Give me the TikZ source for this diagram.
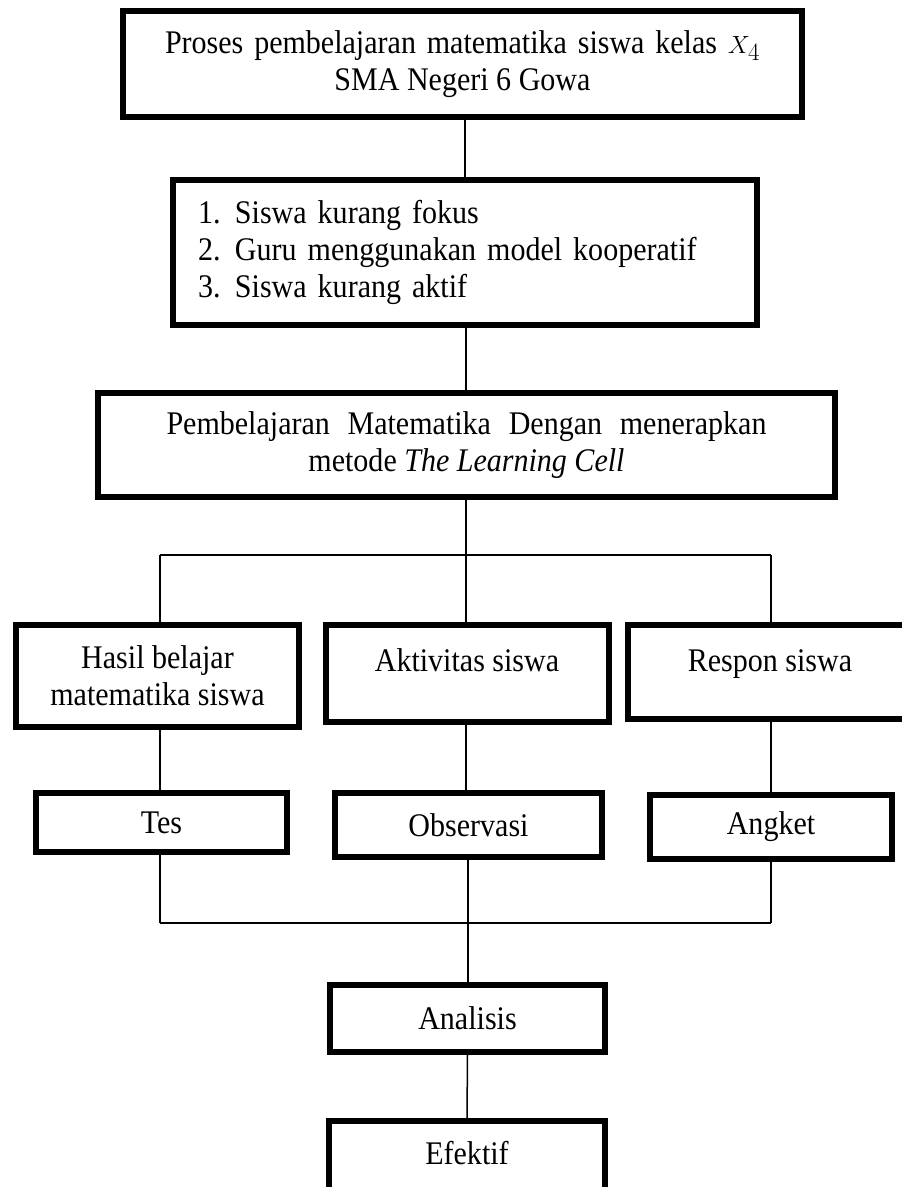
\documentclass[tikz,border=0pt]{standalone}
\usepackage{fontspec}
\setmainfont{Liberation Serif}[FakeStretch=0.91]
\begin{document}
\begin{tikzpicture}[x=1pt,y=-1pt,
  box/.style={draw, line width=6pt, inner sep=0pt, align=center, font=\fontsize{33pt}{37pt}\selectfont},
  lbl/.style={inner sep=0pt, align=center, anchor=base, font=\fontsize{33pt}{37pt}\selectfont},
  conn/.style={line width=1.5pt},
  bar/.style={line width=2.5pt}]
\useasboundingbox (0,0) rectangle (902,1187);
\fill[white] (0,0) rectangle (902,1187);
\clip (0,0) rectangle (902,1187);
% boxes
\node[box, minimum width=679pt, minimum height=106pt] (B1) at (462.5,64)
  {\makebox[595pt][s]{Proses pembelajaran matematika siswa kelas $X_4$}\\SMA Negeri 6 Gowa};
\node[box, align=left, inner xsep=25pt, text width=534pt, minimum height=145pt] (B2) at (465,252.5)
  {\makebox[37pt][l]{1.}Siswa kurang fokus\\\makebox[37pt][l]{2.}Guru menggunakan model kooperatif\\\makebox[37pt][l]{3.}Siswa kurang aktif};
\node[box, minimum width=737pt, minimum height=104pt] (B3) at (466.5,445)
  {\makebox[600pt][s]{Pembelajaran Matematika Dengan menerapkan}\\metode \textit{The Learning Cell}};
\node[box, minimum width=283pt, minimum height=102pt] (B4) at (157.5,676)
  {Hasil belajar\\matematika siswa};
\node[box, minimum width=283pt, minimum height=97pt] (B5) at (467.5,673.5) {};
\node[lbl] (T5) at (467,671) {Aktivitas siswa};
\node[box, minimum width=279pt, minimum height=94pt] (B6) at (767.5,672) {};
\node[lbl] (T6) at (770,671) {Respon siswa};
\node[box, minimum width=251pt, minimum height=59pt] (Tes) at (161.5,822.5) {Tes};
\node[box, minimum width=267pt, minimum height=64pt] (Obs) at (468.5,825) {Observasi};
\node[box, minimum width=242pt, minimum height=64pt] (Ang) at (771,827) {Angket};
\node[box, minimum width=275pt, minimum height=67pt] (Ana) at (467.5,1018.5) {Analisis};
\node[box, minimum width=276pt, minimum height=76pt] (Efe) at (467,1159) {};
\node[lbl] (TE) at (467,1164) {Efektif};
% junction coordinates
\coordinate (hL) at (160,555);
\coordinate (hM) at (466,555);
\coordinate (hR) at (771,555);
\coordinate (lL) at (160,923);
\coordinate (lM) at (468,923);
\coordinate (lR) at (771,923);
% connectors
\draw[conn] (B1.south -| B2.north) -- (B2.north);
\draw[conn] (B2.south -| hM) -- (B3.north -| hM);
\draw[conn] (B3.south -| hM) -- (hM);
\draw[bar] (hL) -- (hR);
\draw[conn] (hL) -- (hL |- B4.north);
\draw[conn] (hM) -- (hM |- B5.north);
\draw[conn] (hR) -- (hR |- B6.north);
\draw[conn] (hL |- B4.south) -- (hL |- Tes.north);
\draw[conn] (hM |- B5.south) -- (hM |- Obs.north);
\draw[conn] (hR |- B6.south) -- (hR |- Ang.north);
\draw[conn] (lL |- Tes.south) -- (lL);
\draw[conn] (lR |- Ang.south) -- (lR);
\draw[bar] (lL) -- (lR);
\draw[conn] (lM |- Obs.south) -- (lM |- Ana.north);
\draw[conn] (Ana.south) -- (Efe.north);
\end{tikzpicture}
\end{document}
